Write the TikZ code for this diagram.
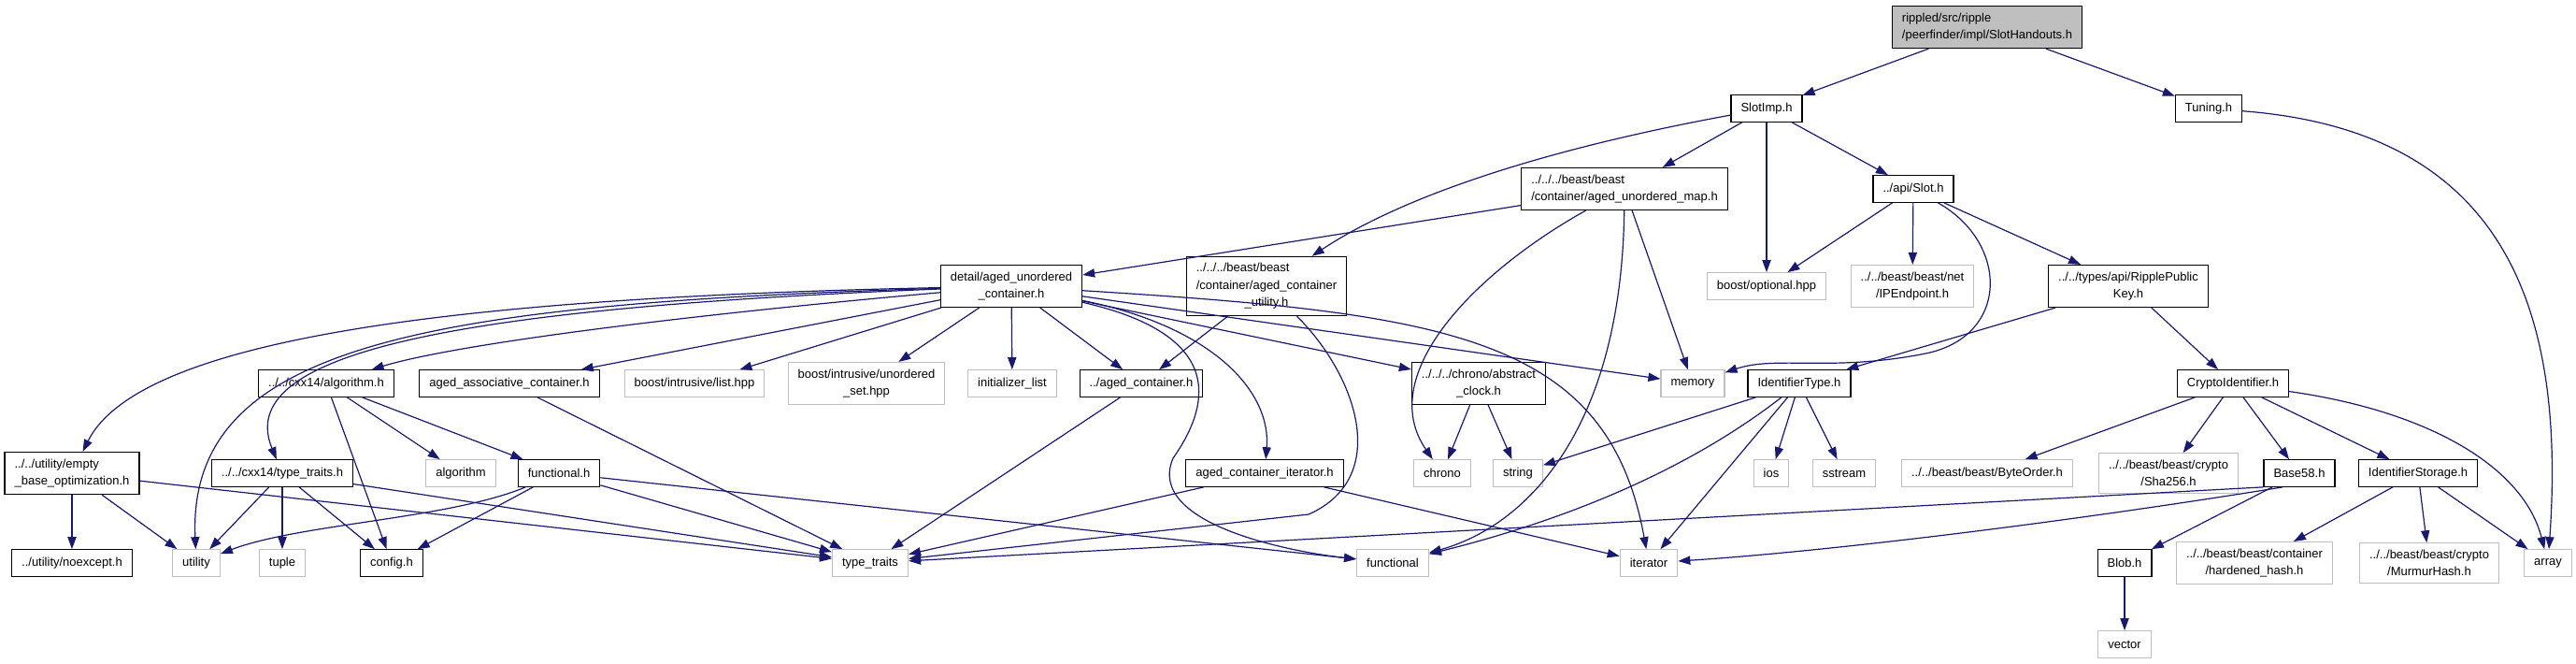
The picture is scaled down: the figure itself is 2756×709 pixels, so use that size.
\documentclass[tikz,border=0pt]{standalone}
\usepackage{fontspec}
\setmainfont{Liberation Sans}
\usepackage{tikz}
\usetikzlibrary{arrows.meta}
\definecolor{incblue}{HTML}{191970}
\definecolor{extgrey}{HTML}{BFBFBF}

\begin{document}
\begin{tikzpicture}[x=0.5pt,y=-0.5pt, every node/.style={draw,line width=0.6pt,fill=white,align=center,inner xsep=5.25pt,inner ysep=3.6pt,minimum height=14.25pt,font=\fontsize{6.5}{9.2}\selectfont}, ext/.style={draw=extgrey}, inc/.style={-{Triangle[length=6.5pt,width=4.6pt]},draw=incblue,line width=0.6pt}]
\useasboundingbox (0,0) rectangle (2756,709);
\node (root) at (2126,29) [fill=extgrey,align=left] {rippled/src/ripple\\/peerfinder/impl/SlotHandouts.h};
\node (slotimp) at (1890,116) {SlotImp.h}; \node (tuning) at (2363,116) {Tuning.h};
\node (umap) at (1738,202) [align=left] {../../../beast/beast\\/container/aged\_unordered\_map.h}; \node (slot) at (2047,202) {../api/Slot.h};
\node (detail) at (1082,306) {detail/aged\_unordered\\\_container.h}; \node (cutil) at (1355,306) {\rlap{../../../beast/beast}\hphantom{/container/aged\_container}\\/container/aged\_container\\\_utility.h};
\node (optional) at (1890,306) [ext] {boost/optional.hpp}; \node (ipend) at (2046,306) [ext] {../../beast/beast/net\\/IPEndpoint.h}; \node (rpk) at (2277,306) {../../types/api/RipplePublic\\Key.h};
\node (calgo) at (349,410) {../../cxx14/algorithm.h}; \node (assoc) at (545,410) {aged\_associative\_container.h}; \node (ilist) at (743,410) [ext] {boost/intrusive/list.hpp};
\node (uset) at (927,410) [ext] {boost/intrusive/unordered\\\_set.hpp}; \node (initl) at (1083,410) [ext] {initializer\_list}; \node (acont) at (1221,410) {../aged\_container.h};
\node (aclock) at (1582,410) {../../../chrono/abstract\\\_clock.h}; \node (memory) at (1811,410) [ext] {memory}; \node (idtype) at (1925,410) {IdentifierType.h}; \node (cryptoid) at (2389,410) {CryptoIdentifier.h};
\node (ebo) at (77,506) [align=left] {../../utility/empty\\\_base\_optimization.h}; \node (ctraits) at (302,506) {../../cxx14/type\_traits.h}; \node (algorithm) at (493,506) [ext] {algorithm}; \node (funch) at (598,506) {functional.h};
\node (aciter) at (1353,506) {aged\_container\_iterator.h}; \node (chrono) at (1543,506) [ext] {chrono}; \node (string) at (1624,506) [ext] {string}; \node (ios) at (1895,506) [ext] {ios}; \node (sstream) at (1973,506) [ext] {sstream};
\node (byteorder) at (2126,506) [ext] {../../beast/beast/ByteOrder.h}; \node (sha) at (2320,506) [ext] {../../beast/beast/crypto\\/Sha256.h}; \node (base58) at (2460,506) {Base58.h}; \node (idstore) at (2587,506) {IdentifierStorage.h};
\node (noexcept) at (77,602) {../utility/noexcept.h}; \node (utility) at (210,602) [ext] {utility}; \node (tuple) at (302,602) [ext] {tuple}; \node (config) at (419,602) {config.h};
\node (traits) at (931,602) [ext] {type\_traits}; \node (functional) at (1490,602) [ext] {functional}; \node (iterator) at (1764,602) [ext] {iterator}; \node (blob) at (2273,602) {Blob.h};
\node (hhash) at (2412,602) [ext] {../../beast/beast/container\\/hardened\_hash.h}; \node (murmur) at (2599,602) [ext] {../../beast/beast/crypto\\/MurmurHash.h}; \node (array) at (2726,602) [ext] {array};
\node (vector) at (2273,689) [ext] {vector};
\draw[inc] (root)--(slotimp); \draw[inc] (root)--(tuning); \draw[inc] (tuning) .. controls (2680,140) and (2745,330) .. (array);
\draw[inc] (slotimp) .. controls (1650,160) and (1500,210) .. (cutil); \draw[inc] (slotimp)--(umap); \draw[inc] (slotimp)--(optional); \draw[inc] (slotimp)--(slot);
\draw[inc] (umap)--(detail); \draw[inc] (umap) .. controls (1580,290) and (1470,400) .. (chrono); \draw[inc] (umap) .. controls (1735,450) and (1640,560) .. (functional); \draw[inc] (umap)--(memory);
\draw[inc] (slot)--(optional); \draw[inc] (slot)--(ipend); \draw[inc] (slot)--(rpk); \draw[inc] (slot) .. controls (2150,260) and (2150,360) .. (2060,378) .. controls (1960,398) and (1900,380) .. (memory);
\draw[inc] (rpk)--(idtype); \draw[inc] (rpk)--(cryptoid); \draw[inc] (cutil)--(acont); \draw[inc] (cutil) .. controls (1450,400) and (1490,510) .. (1400,550) -- (traits);
\draw[inc] (detail) .. controls (500,318) and (150,360) .. (ebo); \draw[inc] (detail) .. controls (450,325) and (200,370) .. (utility); \draw[inc] (detail) .. controls (470,330) and (250,380) .. (ctraits);
\draw[inc] (detail) .. controls (700,340) and (480,370) .. (calgo); \draw[inc] (detail)--(assoc); \draw[inc] (detail)--(ilist); \draw[inc] (detail)--(uset); \draw[inc] (detail)--(initl); \draw[inc] (detail)--(acont);
\draw[inc] (detail) .. controls (1300,350) and (1360,420) .. (aciter); \draw[inc] (detail) .. controls (1320,360) and (1290,440) .. (1255,490) .. controls (1225,560) and (1380,590) .. (functional);
\draw[inc] (detail)--(aclock); \draw[inc] (detail)--(memory); \draw[inc] (detail) .. controls (1550,335) and (1720,360) .. (iterator);
\draw[inc] (calgo)--(config); \draw[inc] (calgo)--(algorithm); \draw[inc] (calgo)--(funch); \draw[inc] (assoc)--(traits);
\draw[inc] (ebo)--(noexcept); \draw[inc] (ebo)--(utility); \draw[inc] (ebo)--(traits); \draw[inc] (ctraits)--(utility); \draw[inc] (ctraits)--(tuple); \draw[inc] (ctraits)--(config); \draw[inc] (ctraits)--(traits);
\draw[inc] (funch) .. controls (480,555) and (320,560) .. (utility); \draw[inc] (funch)--(config); \draw[inc] (funch)--(traits); \draw[inc] (funch)--(functional);
\draw[inc] (acont)--(traits); \draw[inc] (aciter)--(traits); \draw[inc] (aciter)--(iterator); \draw[inc] (aclock)--(chrono); \draw[inc] (aclock)--(string);
\draw[inc] (idtype)--(string); \draw[inc] (idtype) .. controls (1835,480) and (1720,545) .. (functional); \draw[inc] (idtype)--(iterator); \draw[inc] (idtype)--(ios); \draw[inc] (idtype)--(sstream);
\draw[inc] (cryptoid)--(byteorder); \draw[inc] (cryptoid)--(sha); \draw[inc] (cryptoid)--(base58); \draw[inc] (cryptoid)--(idstore); \draw[inc] (cryptoid) .. controls (2600,440) and (2700,500) .. (array);
\draw[inc] (base58)--(blob); \draw[inc] (base58.south west)--(traits); \draw[inc] (base58.220) .. controls (2200,560) and (1950,590) .. (iterator);
\draw[inc] (idstore)--(hhash); \draw[inc] (idstore)--(murmur); \draw[inc] (idstore)--(array); \draw[inc] (blob)--(vector);
\end{tikzpicture}
\end{document}
